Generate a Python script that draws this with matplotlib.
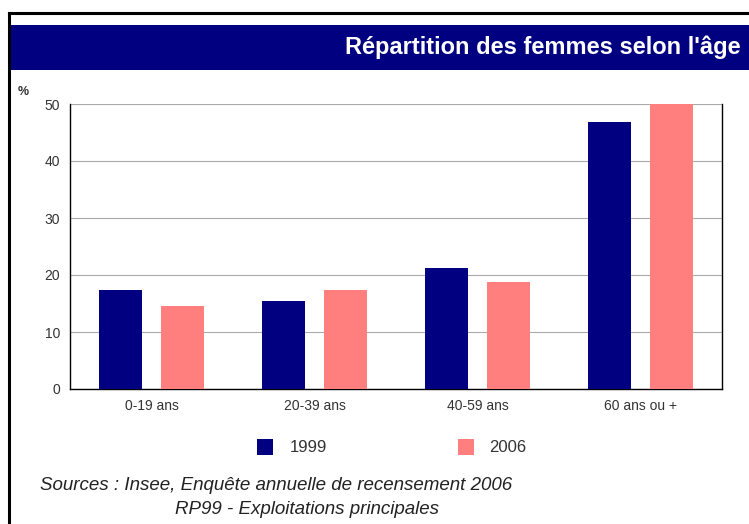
import numpy as np
import matplotlib.pyplot as plt
from matplotlib.patches import Rectangle

plt.rcParams['font.family'] = ['Liberation Sans', 'DejaVu Sans']

categories = ['0-19 ans', '20-39 ans', '40-59 ans', '60 ans ou +']
vals_1999 = [17.4, 15.5, 21.2, 46.8]
vals_2006 = [14.6, 17.4, 18.8, 50.0]
years = ['1999', '2006']
yticks = [0, 10, 20, 30, 40, 50]

NAVY = '#000080'
PINK = '#ff7f7f'
W, H = 749, 524

fig = plt.figure(figsize=(W / 100, H / 100), dpi=100)

# outer frame (runs off the right and bottom edges)
fig.add_artist(plt.Line2D([9 / W, 9 / W], [0, 1 - 13 / H], color='black', lw=2.2))
fig.add_artist(plt.Line2D([9 / W, 1], [1 - 13 / H, 1 - 13 / H], color='black', lw=2.2))

# title bar
fig.add_artist(Rectangle((10 / W, 1 - 70 / H), 1, 45 / H, facecolor=NAVY,
                         edgecolor='none', transform=fig.transFigure))
fig.text(741 / W, 1 - 47 / H, "Répartition des femmes selon l'âge", color='white',
         fontsize=17, fontweight='bold', ha='right', va='center')

ax = fig.add_axes([70 / W, 1 - 389 / H, 652 / W, 285 / H])
x = np.arange(len(categories))
bw = 0.265
ax.bar(x - 0.19, vals_1999, bw, color=NAVY, zorder=3)
ax.bar(x + 0.19, vals_2006, bw, color=PINK, zorder=3)

ax.set_xlim(-0.5, len(categories) - 0.5)
ax.set_ylim(0, 50)
ax.set_yticks(yticks)
ax.set_xticks(x)
ax.set_xticklabels(categories)
ax.tick_params(axis='both', length=0, labelsize=10, colors='#333333', pad=7)
ax.tick_params(axis='y', pad=7)
ax.grid(axis='y', color='#aaaaaa', lw=0.8, zorder=0)
for s in ['left', 'bottom', 'right']:
    ax.spines[s].set_color('black')
    ax.spines[s].set_linewidth(1.0)
ax.spines['top'].set_visible(False)

fig.text(18 / W, 1 - 92 / H, '%', fontsize=9, fontweight='bold', color='#333333',
         va='center')

# legend
for xs, xt, lab, col in [(257, 290, years[0], NAVY), (458, 489, years[1], PINK)]:
    fig.add_artist(Rectangle((xs / W, 1 - 455 / H), 16 / W, 16 / H, facecolor=col,
                             edgecolor='none', transform=fig.transFigure))
    fig.text(xt / W, 1 - 447 / H, lab, fontsize=12, color='#333333', va='center')

fig.text(40 / W, 1 - 485 / H, 'Sources : Insee, Enquête annuelle de recensement 2006',
         fontsize=13.5, style='italic', color='#222222', va='center')
fig.text(175 / W, 1 - 510 / H, 'RP99 - Exploitations principales',
         fontsize=13.5, style='italic', color='#222222', va='center')

fig.savefig('out.png', dpi=100)
